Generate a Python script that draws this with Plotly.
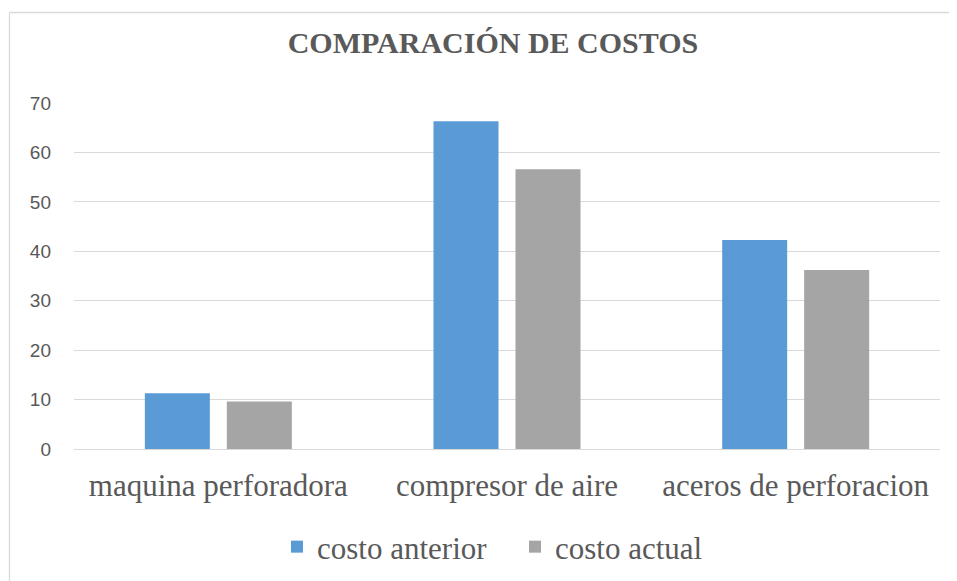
import plotly.graph_objects as go

categories = ["maquina perforadora", "compresor de aire", "aceros de perforacion"]
costo_anterior = [11.3, 66.3, 42.3]
costo_actual = [9.6, 56.6, 36.2]
y_ticks = [0, 10, 20, 30, 40, 50, 60, 70]

# page body has an 8px margin: work in reference pixels, shift by OFF
OFF = 8
W, H = 957 - OFF, 581 - OFF
L, R, T, B = 74 - OFF, 17, 103 - OFF, 132
pw = W - L - R
ph = H - T - B

fig = go.Figure()
fig.add_trace(go.Bar(name="costo anterior", x=categories, y=costo_anterior,
                     marker=dict(color="#5B9BD5", line=dict(width=0))))
fig.add_trace(go.Bar(name="costo actual", x=categories, y=costo_actual,
                     marker=dict(color="#A5A5A5", line=dict(width=0))))

def px_x(p):
    return (p - OFF - L) / pw

def px_y(p):
    return (H - B - (p - OFF)) / ph

border = "#D9D9D9"
shapes = [
    dict(type="line", xref="paper", yref="paper", x0=px_x(9.5), x1=px_x(970),
         y0=px_y(12.5), y1=px_y(12.5), line=dict(color=border, width=1.3)),
    dict(type="line", xref="paper", yref="paper", x0=px_x(9.5), x1=px_x(9.5),
         y0=px_y(12.5), y1=px_y(600), line=dict(color=border, width=1.3)),
]

fig.update_layout(
    width=W, height=H,
    margin=dict(l=L, r=R, t=T, b=B, autoexpand=False),
    paper_bgcolor="white", plot_bgcolor="white",
    barmode="group", bargap=0.432, bargroupgap=0.207,
    title=dict(text="<b>COMPARACIÓN DE COSTOS</b>", x=(493 - OFF) / W, xanchor="center",
               y=1 - (42 - OFF) / H, yanchor="middle", yref="container",
               font=dict(family="Liberation Serif", size=30, color="#595959")),
    xaxis=dict(showgrid=False, showline=False, zeroline=False, ticks="",
               automargin=False,
               tickfont=dict(family="Liberation Serif", size=31, color="#595959"),
               ticklabelstandoff=15),
    yaxis=dict(range=[0, 70], tickvals=y_ticks, showgrid=True, gridcolor=border,
               gridwidth=1.3, zeroline=True, zerolinecolor=border, zerolinewidth=1.3,
               showline=False, ticks="", automargin=False,
               tickfont=dict(family="Liberation Sans", size=19, color="#595959"),
               ticklabelstandoff=22),
    legend=dict(orientation="h", x=px_x(277), xanchor="left", y=px_y(547),
                yanchor="middle", entrywidth=193, entrywidthmode="pixels",
                font=dict(family="Liberation Serif", size=31, color="#595959")),
    shapes=shapes,
)

fig.write_html("out.html")
